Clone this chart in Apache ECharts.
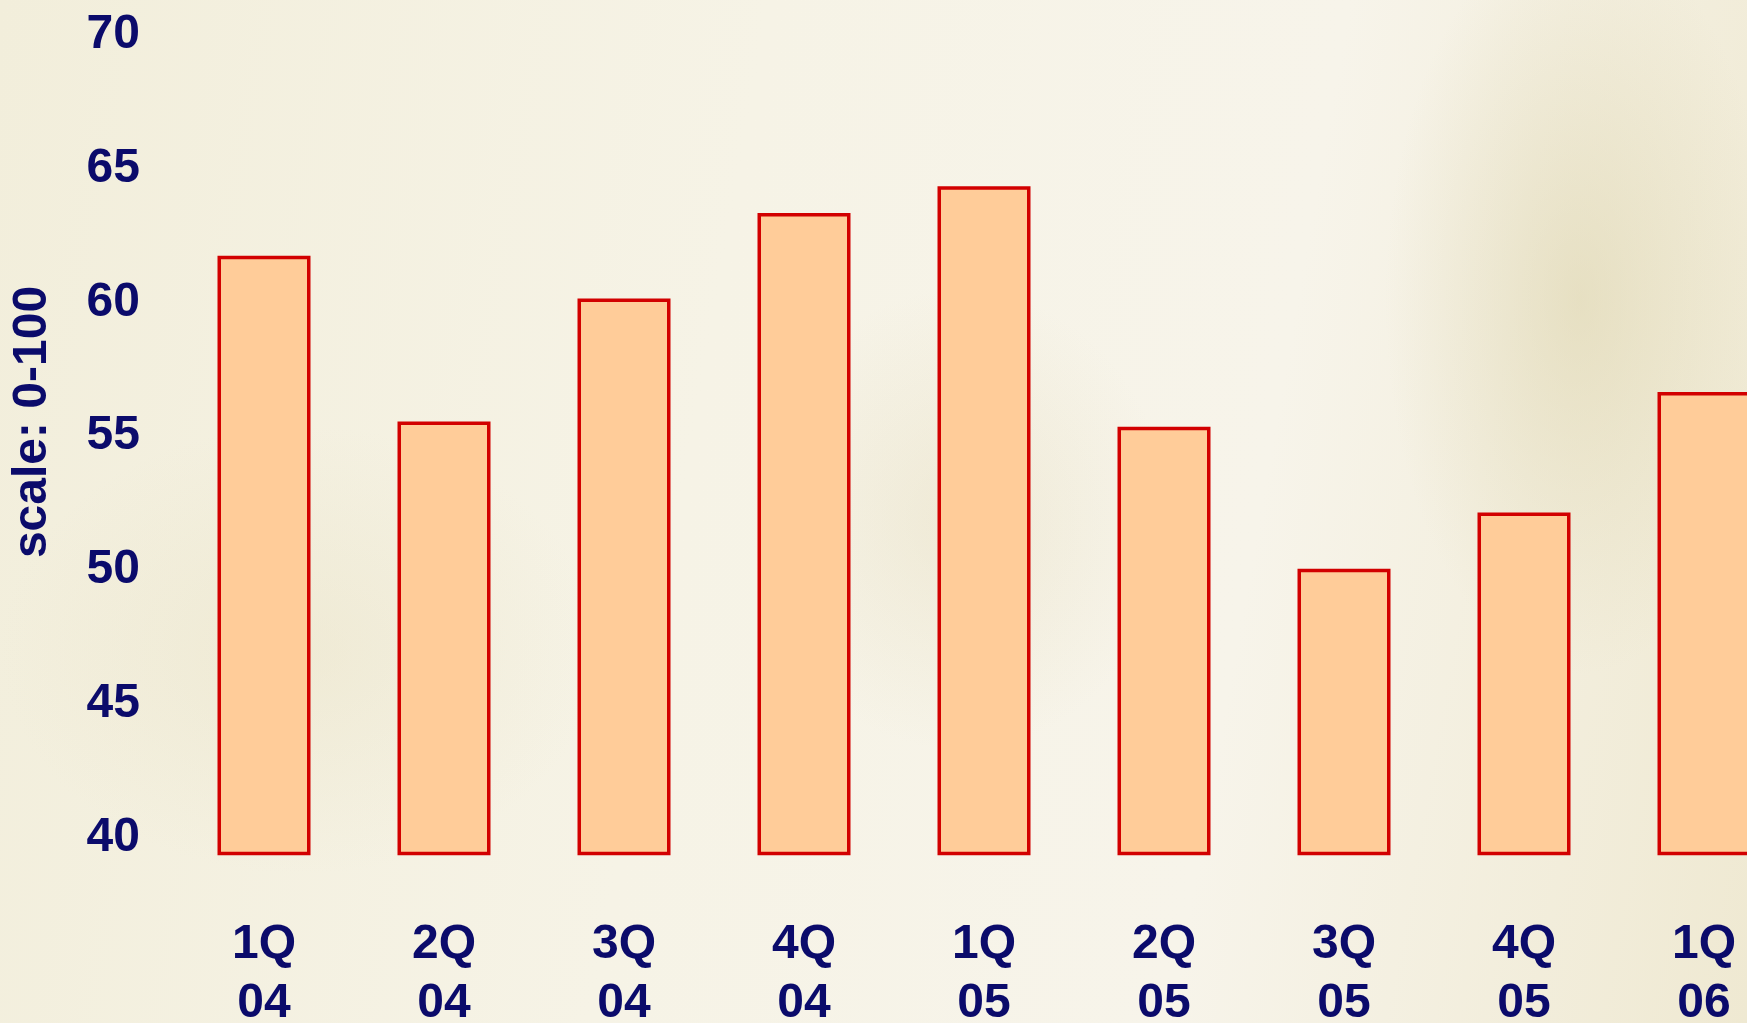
<!DOCTYPE html>
<html>
<head>
<meta charset="utf-8">
<script src="https://cdn.jsdelivr.net/npm/echarts@6/dist/echarts.min.js"></script>
<style>
  html, body {
    margin: 0;
    padding: 0;
    width: 1747px;
    height: 1023px;
    overflow: hidden;
  }
  body {
    background:
      radial-gradient(ellipse 300px 330px at 960px 520px, rgba(225, 215, 180, 0.35), rgba(225, 215, 180, 0) 70%),
      radial-gradient(ellipse 260px 500px at 1580px 300px, rgba(215, 205, 160, 0.45), rgba(215, 205, 160, 0) 75%),
      radial-gradient(ellipse 400px 300px at 300px 650px, rgba(230, 222, 190, 0.35), rgba(230, 222, 190, 0) 75%),
      linear-gradient(100deg, #f2eedb 0%, #f6f3e6 40%, #f7f4ea 70%, #efe9d2 100%);
  }
  /* 图表比窗口宽一点，最后一根柱子被右边裁掉 */
  #chart {
    width: 1794px;
    height: 1023px;
  }
</style>
</head>
<body>
<div id="chart"></div>
<script>
// 季度标签和数值
const quarters = ['1Q\n04', '2Q\n04', '3Q\n04', '4Q\n04', '1Q\n05', '2Q\n05', '3Q\n05', '4Q\n05', '1Q\n06'];
const scores = [61.6, 55.4, 60.0, 63.2, 64.2, 55.2, 49.9, 52.0, 56.5];
const yTicks = [40, 45, 50, 55, 60, 65, 70];
const yAxisTitle = 'scale: 0-100';

const navy = '#0b0b6b';
const font = '"Liberation Sans", Arial, sans-serif';

const myChart = echarts.init(document.getElementById('chart'));

const option = {
  backgroundColor: 'transparent',
  animation: false,
  grid: {
    left: 174,
    right: 0,
    top: 31,
    bottom: 169.5,
    outerBoundsMode: 'none'
  },
  xAxis: {
    type: 'category',
    data: quarters,
    axisLine: { show: false },
    axisTick: { show: false },
    axisLabel: {
      color: navy,
      fontSize: 48,
      fontWeight: 'bold',
      fontFamily: font,
      lineHeight: 59,
      margin: 62
    }
  },
  yAxis: {
    type: 'value',
    min: 39.25,
    max: 70,
    axisLine: { show: false },
    axisTick: { show: false },
    splitLine: { show: false },
    axisLabel: {
      customValues: yTicks,
      margin: 34,
      formatter: '{v|{value}}',
      rich: {
        v: {
          color: navy,
          fontSize: 48,
          fontWeight: 'bold',
          fontFamily: font,
          padding: [8, 0, 0, 0] // 文字往下挪一点
        }
      }
    }
  },
  graphic: [
    {
      type: 'text',
      x: 33,
      y: 422,
      rotation: Math.PI / 2,
      style: {
        text: yAxisTitle,
        fill: navy,
        fontSize: 48,
        fontWeight: 'bold',
        fontFamily: font,
        align: 'center',
        verticalAlign: 'middle'
      }
    }
  ],
  series: [
    {
      type: 'bar',
      data: scores,
      barWidth: 93,
      itemStyle: {
        color: '#ffcc99',
        borderColor: '#d20000',
        borderWidth: 3.5
      }
    }
  ]
};

myChart.setOption(option);
</script>
</body>
</html>
